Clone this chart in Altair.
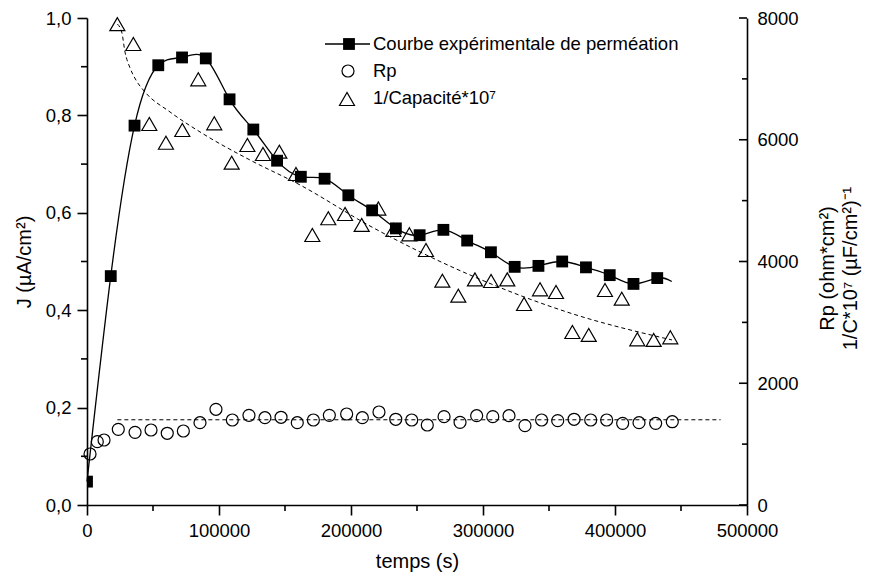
import altair as alt
import pandas as pd

W, H = 660, 487
FONT = "Liberation Sans"

# ---- data ----
perm_t = [0, 18000, 36000, 54000, 72000, 90000, 108000, 126000, 144000, 162000,
          180000, 198000, 216000, 234000, 252000, 270000, 288000, 306000, 324000,
          342000, 360000, 378000, 396000, 414000, 432000]
perm_j = [0.048, 0.47, 0.779, 0.903, 0.919, 0.917, 0.833, 0.771, 0.707, 0.674,
          0.670, 0.636, 0.605, 0.568, 0.554, 0.565, 0.543, 0.519, 0.489,
          0.491, 0.500, 0.488, 0.472, 0.454, 0.466]
perm_line_end_t = [443000]
perm_line_end_j = [0.459]

rp_t = [2300, 7800, 12900, 23700, 36400, 48500, 60800, 73000, 85600, 97700,
        110100, 122700, 134800, 147000, 159300, 171500, 183600, 196700, 208600,
        221200, 233900, 246000, 257800, 270500, 282600, 295200, 307400, 319700,
        331800, 344400, 356600, 369000, 381600, 393700, 405800, 418200, 430800, 443400]
rp_v = [838, 1040, 1068, 1243, 1194, 1232, 1178, 1216, 1352, 1572,
        1396, 1473, 1434, 1441, 1352, 1396, 1473, 1495, 1434,
        1528, 1408, 1396, 1314, 1451, 1358, 1467, 1451, 1467,
        1303, 1396, 1385, 1408, 1396, 1396, 1341, 1352, 1341, 1368]
rp_fit_t = [23000, 480000]
rp_fit_v = [1400, 1400]

cap_t = [23000, 35100, 47200, 59800, 72200, 84300, 96400, 109600, 121500, 133300,
         145700, 158300, 170700, 182800, 195500, 208100, 220700, 232100, 244200,
         256800, 269200, 281300, 293900, 306100, 318400, 331100, 343200, 355300,
         367700, 380100, 392400, 405100, 416900, 429300, 441900]
cap_v = [7900, 7573, 6259, 5951, 6160, 6993, 6270, 5623, 5914, 5766,
         5804, 5437, 4435, 4710, 4780, 4600, 4870, 4517, 4447,
         4189, 3685, 3438, 3707, 3680, 3707, 3302, 3543, 3499,
         2842, 2793, 3532, 3389, 2722, 2711, 2755]
cap_fit_t = [23000, 26300, 28800, 32600, 37100, 43900, 62900, 89400, 123500,
             161400, 214400, 290200, 365900, 443200]
cap_fit_v = [7900, 7770, 7440, 7180, 6980, 6785, 6456, 6078, 5667,
             5257, 4583, 3778, 3154, 2711]

legend_labels = ["Courbe expérimentale de perméation", "Rp", "1/Capacité*10⁷"]

left_major = [0.0, 0.2, 0.4, 0.6, 0.8, 1.0]
left_minor = [0.1, 0.3, 0.5, 0.7, 0.9]
right_major = [0, 2000, 4000, 6000, 8000]
right_minor = [1000, 3000, 5000, 7000]
x_major = [0, 100000, 200000, 300000, 400000, 500000]
x_minor = [50000, 150000, 250000, 350000, 450000]

# ---- tables ----
perm_df = pd.DataFrame({"t": perm_t, "j": perm_j})
perm_line_df = pd.DataFrame({"t": perm_t + perm_line_end_t, "j": perm_j + perm_line_end_j})
rp_df = pd.DataFrame({"t": rp_t, "v": rp_v})
rp_fit_df = pd.DataFrame({"t": rp_fit_t, "v": rp_fit_v})
cap_df = pd.DataFrame({"t": cap_t, "v": cap_v})
cap_fit_df = pd.DataFrame({"t": cap_fit_t, "v": cap_fit_v})

xscale = alt.Scale(domain=[0, 500000], nice=False, zero=False)
lscale = alt.Scale(domain=[0, 1], nice=False, zero=False)
rscale = alt.Scale(domain=[0, 8000], nice=False, zero=False)

xaxis = alt.Axis(values=x_major, format="d", title="temps (s)", tickSize=10,
                 labelPadding=6, titlePadding=12, grid=False)
laxis = alt.Axis(values=left_major, tickSize=10, labelPadding=6, grid=False,
                 labelExpr="replace(format(datum.value, '.1f'), '.', ',')",
                 title="J (µA/cm²)", titlePadding=11)
raxis = alt.Axis(orient="right", values=right_major, ticks=False, labelPadding=10,
                 grid=False, format="d",
                 title=["Rp (ohm*cm²)", "1/C*10⁷ (µF/cm²)⁻¹"],
                 titleAngle=270, titleX=80, titleY=250, titleAlign="center",
                 titleBaseline="middle", titleLineHeight=23)

base_l = alt.Chart(perm_line_df).mark_line(
    interpolate="natural", color="black", strokeWidth=1.3
).encode(x=alt.X("t:Q", scale=xscale, axis=xaxis),
         y=alt.Y("j:Q", scale=lscale, axis=laxis))

perm_pts = alt.Chart(perm_df).mark_point(
    shape="square", filled=True, color="black", size=140, opacity=1, clip=True
).encode(x=alt.X("t:Q", scale=xscale), y=alt.Y("j:Q", scale=lscale))

lminor = alt.Chart(pd.DataFrame({"j": left_minor})).mark_rule(
    color="black", strokeWidth=1.6
).encode(y=alt.Y("j:Q", scale=lscale), x=alt.value(-6), x2=alt.value(0))

xminor = alt.Chart(pd.DataFrame({"t": x_minor})).mark_rule(
    color="black", strokeWidth=1.6
).encode(x=alt.X("t:Q", scale=xscale), y=alt.value(H), y2=alt.value(H + 6))

left = alt.layer(base_l, perm_pts, lminor, xminor)

rp_fit = alt.Chart(rp_fit_df).mark_line(
    color="black", strokeWidth=1, strokeDash=[4, 3]
).encode(x=alt.X("t:Q", scale=xscale), y=alt.Y("v:Q", scale=rscale, axis=raxis))
rp_pts = alt.Chart(rp_df).mark_point(
    shape="circle", filled=False, color="black", size=144, strokeWidth=1.2, opacity=1
).encode(x=alt.X("t:Q", scale=xscale), y=alt.Y("v:Q", scale=rscale))
cap_fit = alt.Chart(cap_fit_df).mark_line(
    interpolate="monotone", color="black", strokeWidth=1, strokeDash=[4, 3]
).encode(x=alt.X("t:Q", scale=xscale), y=alt.Y("v:Q", scale=rscale))
cap_pts = alt.Chart(cap_df).mark_point(
    shape="triangle-up", filled=False, color="black", size=225, strokeWidth=1.2, opacity=1
).encode(x=alt.X("t:Q", scale=xscale), y=alt.Y("v:Q", scale=rscale))
rmajor = alt.Chart(pd.DataFrame({"v": right_major})).mark_rule(
    color="black", strokeWidth=1.6
).encode(y=alt.Y("v:Q", scale=rscale), x=alt.value(W - 8), x2=alt.value(W))
rminor = alt.Chart(pd.DataFrame({"v": right_minor})).mark_rule(
    color="black", strokeWidth=1.6
).encode(y=alt.Y("v:Q", scale=rscale), x=alt.value(W - 5), x2=alt.value(W))

# legend (drawn inside the plot, like the original)
leg_df = pd.DataFrame({"label": legend_labels})
leg_line = alt.Chart(leg_df.iloc[[0]]).mark_rule(color="black", strokeWidth=1.3).encode(
    x=alt.value(238), x2=alt.value(283), y=alt.value(26))
leg_sq = alt.Chart(leg_df.iloc[[0]]).mark_point(
    shape="square", filled=True, color="black", size=140, opacity=1).encode(
    x=alt.value(262), y=alt.value(26))
leg_ci = alt.Chart(leg_df.iloc[[1]]).mark_point(
    shape="circle", filled=False, color="black", size=144, strokeWidth=1.2, opacity=1).encode(
    x=alt.value(261), y=alt.value(53))
leg_tr = alt.Chart(leg_df.iloc[[2]]).mark_point(
    shape="triangle-up", filled=False, color="black", size=225, strokeWidth=1.2, opacity=1).encode(
    x=alt.value(260), y=alt.value(81))
leg_txt = alt.Chart(leg_df).transform_window(
    idx="row_number()"
).transform_calculate(
    py="27 * datum.idx - 1"
).mark_text(
    align="left", baseline="middle", font=FONT, fontSize=18.5, color="black"
).encode(text="label:N", x=alt.value(286), y=alt.Y("py:Q", scale=None))

right = alt.layer(rp_fit, rp_pts, cap_fit, cap_pts, rmajor, rminor,
                  leg_line, leg_sq, leg_ci, leg_tr, leg_txt)

chart = alt.layer(left, right).resolve_scale(y="independent").properties(
    width=W, height=H,
    autosize=alt.AutoSizeParams(type="none"),
    padding={"left": 79, "top": 10, "right": 115, "bottom": 70},
).configure_view(stroke=None).configure_axis(
    labelFont=FONT, titleFont=FONT, labelFontSize=18.5, titleFontSize=20,
    titleFontWeight="normal", labelColor="black", titleColor="black",
    domainColor="black", tickColor="black", domainWidth=1.6, tickWidth=1.6,
    labelFlush=False, labelOverlap=False
)

chart.save("out.html", embed_options={"renderer": "svg", "actions": False})
